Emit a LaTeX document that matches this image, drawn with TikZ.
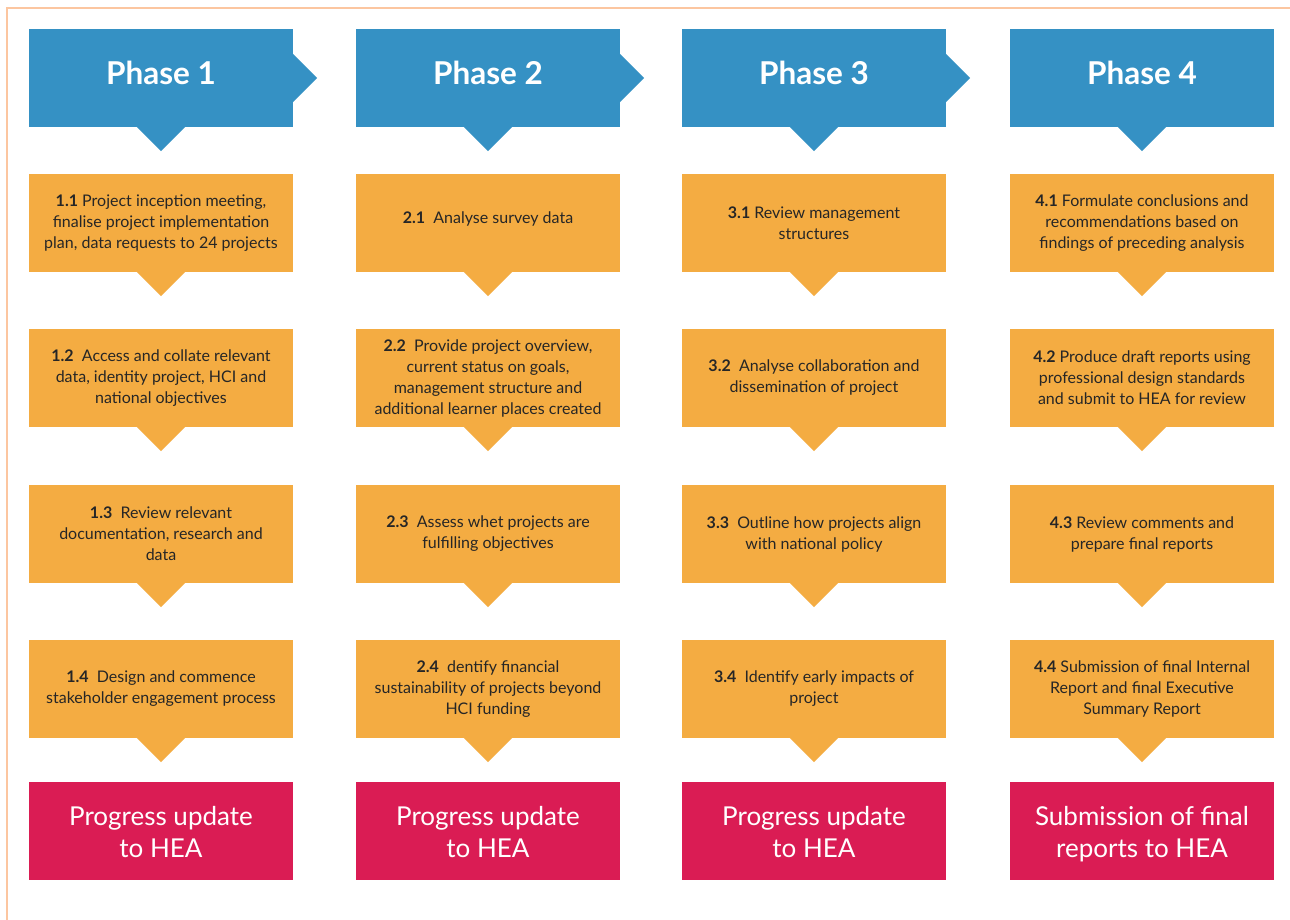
\documentclass[tikz,border=0pt]{standalone}
\usepackage{fontspec}
\setmainfont{Lato}
\definecolor{phaseblue}{HTML}{3591C4}
\definecolor{steporange}{HTML}{F4AC42}
\definecolor{updred}{HTML}{DA1C54}
\definecolor{frameorange}{HTML}{FCC6A0}
\definecolor{txtdark}{HTML}{262626}
\tikzset{
  box/.style={rectangle, inner sep=0pt, minimum width=264pt, minimum height=98pt, align=center},
  phasebox/.style={box, fill=phaseblue, text=white, font=\fontsize{31.5}{36}\selectfont\bfseries},
  stepbox/.style={box, fill=steporange, text=txtdark, font=\fontsize{16}{21}\selectfont},
  updbox/.style={box, fill=updred, text=white, font=\fontsize{26}{32}\selectfont},
}
\newcommand{\downtip}[2]{\fill[#2] ([xshift=-24.5pt,yshift=0.5pt]#1.south) -- ([xshift=24.5pt,yshift=0.5pt]#1.south) -- ([yshift=-24pt]#1.south) -- cycle;}
\newcommand{\righttip}[1]{\fill[phaseblue] ([xshift=-0.5pt,yshift=24.5pt]#1.east) -- ([xshift=24pt]#1.east) -- ([xshift=-0.5pt,yshift=-24.5pt]#1.east) -- cycle;}
\newcommand{\ttl}[1]{\raisebox{10pt}{#1}}
\newcommand{\updtxt}[2]{\rule{0pt}{29pt}#1\\#2\rule[-8pt]{0pt}{8pt}}
\begin{document}
\begin{tikzpicture}[x=1pt,y=-1pt]
\useasboundingbox[fill=white] (0,0) rectangle (1290,920);
\draw[frameorange, line width=1.5pt] (7,920) -- (7,8) -- (1290,8);
% Phase headers
\node[phasebox] (p1) at (161,78) {\ttl{Phase 1}};
\node[phasebox] (p2) at (488,78) {\ttl{Phase 2}};
\node[phasebox] (p3) at (814,78) {\ttl{Phase 3}};
\node[phasebox] (p4) at (1142,78) {\ttl{Phase 4}};
\foreach \n in {p1,p2,p3,p4} {\downtip{\n}{phaseblue}}
\foreach \n in {p1,p2,p3} {\righttip{\n}}
% Phase 1
\node[stepbox] (s11) at (161,223) {\textbf{1.1} Project inception meeting,\\finalise project implementation\\plan, data requests to 24 projects};
\node[stepbox] (s12) at (161,378) {\textbf{1.2}\ \ Access and collate relevant\\data, identity project, HCI and\\national objectives};
\node[stepbox] (s13) at (161,534) {\textbf{1.3}\ \ Review relevant\\documentation, research and\\data};
\node[stepbox] (s14) at (161,689) {\textbf{1.4}\ \ Design and commence\\stakeholder engagement process};
% Phase 2
\node[stepbox] (s21) at (488,223) {\raisebox{10pt}{\textbf{2.1}\ \ Analyse survey data}};
\node[stepbox] (s22) at (488,378) {\textbf{2.2}\ \ Provide project overview,\\current status on goals,\\management structure and\\additional learner places created};
\node[stepbox] (s23) at (488,534) {\textbf{2.3}\ \ Assess whet projects are\\fulfilling objectives};
\node[stepbox] (s24) at (488,689) {\textbf{2.4}\ \ dentify financial\\sustainability of projects beyond\\HCI funding};
% Phase 3
\node[stepbox] (s31) at (814,223) {\textbf{3.1} Review management\\structures};
\node[stepbox] (s32) at (814,378) {\textbf{3.2}\ \ Analyse collaboration and\\dissemination of project};
\node[stepbox] (s33) at (814,534) {\textbf{3.3}\ \ Outline how projects align\\with national policy};
\node[stepbox] (s34) at (814,689) {\textbf{3.4}\ \ Identify early impacts of\\project};
% Phase 4
\node[stepbox] (s41) at (1142,223) {\textbf{4.1} Formulate conclusions and\\recommendations based on\\findings of preceding analysis};
\node[stepbox] (s42) at (1142,378) {\textbf{4.2} Produce draft reports using\\professional design standards\\and submit to HEA for review};
\node[stepbox] (s43) at (1142,534) {\textbf{4.3} Review comments and\\prepare final reports};
\node[stepbox] (s44) at (1142,689) {\textbf{4.4} Submission of final Internal\\Report and final Executive\\Summary Report};
\foreach \c in {1,2,3,4} {\foreach \r in {1,2,3,4} {\downtip{s\c\r}{steporange}}}
% Updates
\node[updbox] (u1) at (161,831) {\updtxt{Progress update}{to HEA}};
\node[updbox] (u2) at (488,831) {\updtxt{Progress update}{to HEA}};
\node[updbox] (u3) at (814,831) {\updtxt{Progress update}{to HEA}};
\node[updbox] (u4) at (1142,831) {\updtxt{Submission of final}{reports to HEA}};
\end{tikzpicture}
\end{document}
